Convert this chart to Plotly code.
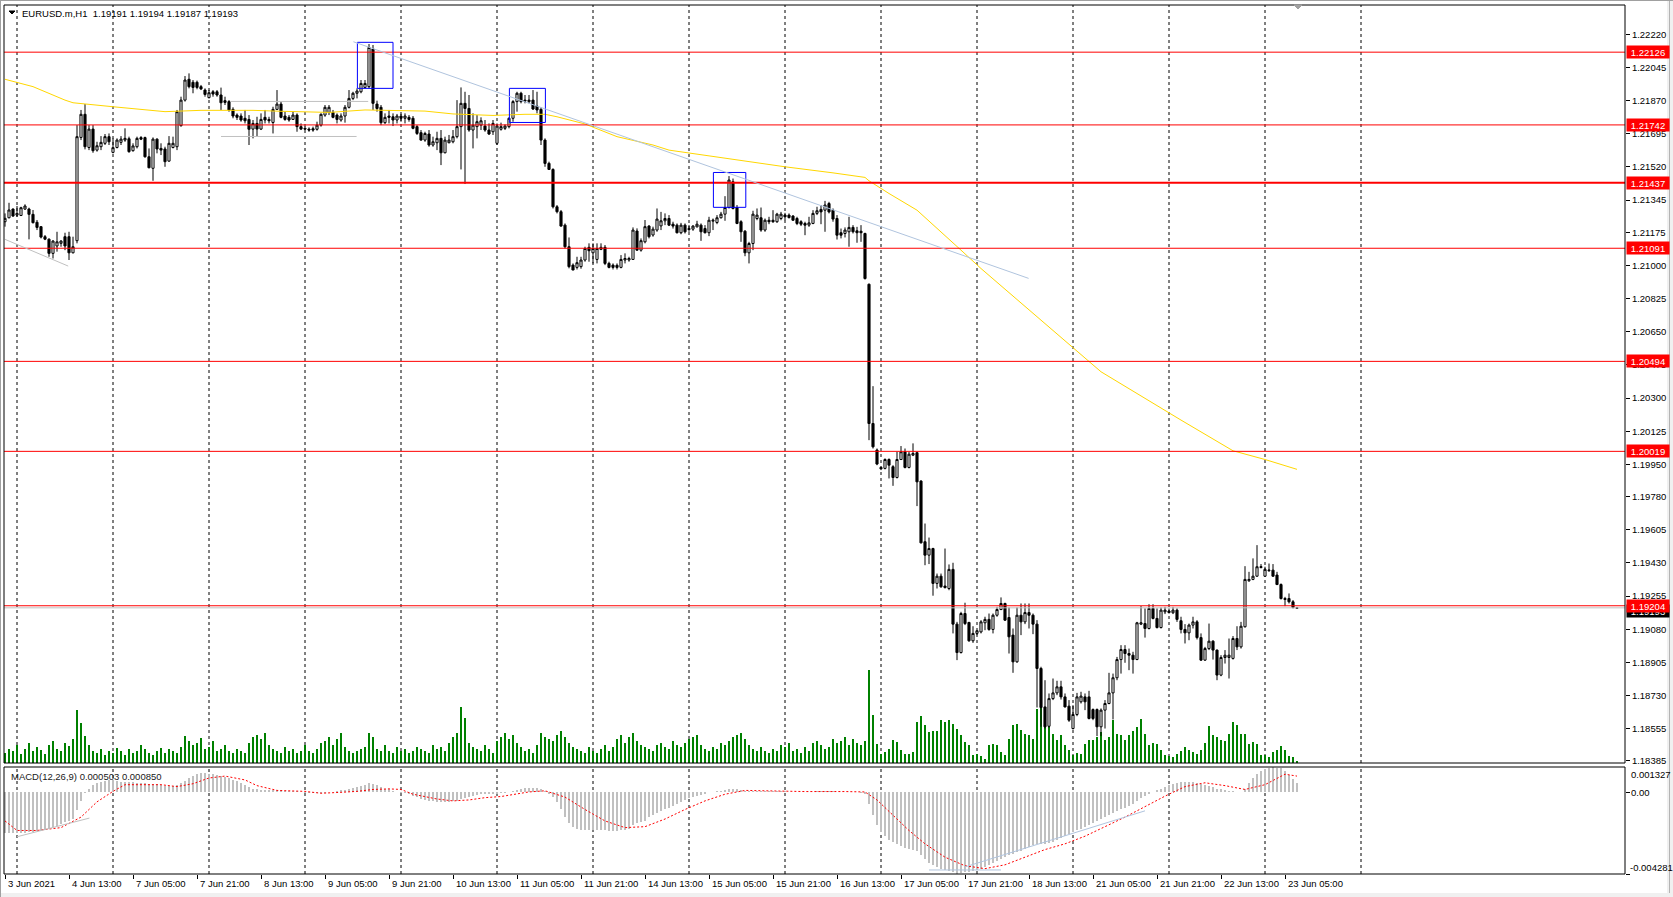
import plotly.graph_objects as go

# ---------------- DATA (EURUSD.m, H1; bar 0 = 3 Jun 2021 21:00) ----------------
# prices in points (1 point = 0.00001)
open_p = [
121231,121252,121298,121266,121264,121298,121298,121270,121228,121205,
121152,121139,121064,121103,121117,121152,121152,121067,121131,121676,
121798,121623,121720,121609,121627,121645,121680,121597,121623,121650,
121662,121669,121606,121627,121675,121675,121574,121513,121667,121618,
121615,121551,121623,121627,121738,121873,121983,121967,121967,121944,
121926,121886,121917,121917,121900,121870,121865,121824,121794,121789,
121777,121771,121720,121750,121720,121782,121771,121755,121824,121852,
121789,121782,121771,121794,121733,121724,121720,121722,121719,121741,
121794,121808,121808,121794,121768,121789,121835,121882,121909,121917,
121940,121944,122143,121852,121835,121754,121789,121785,121768,121789,
121777,121782,121777,121733,121701,121662,121694,121636,121648,121671,
121595,121648,121653,121680,121733,121856,121829,121715,121733,121741,
121736,121715,121706,121645,121719,121724,121733,121777,121865,121909,
121873,121865,121873,121842,121824,121662,121539,121507,121310,121284,
121213,121099,121002,120990,120994,121029,121096,121067,121032,121085,
121096,121011,121002,121001,120990,121029,121029,121032,121182,121081,
121125,121208,121161,121187,121209,121236,121248,121218,121213,121173,
121213,121195,121192,121204,121213,121195,121173,121234,121227,121252,
121271,121306,121442,121306,121231,121181,121067,121116,121248,121252,
121187,121239,121239,121231,121248,121266,121266,121261,121248,121231,
121222,121213,121222,121275,121296,121292,121327,121292,121248,121173,
121169,121178,121201,121183,121181,121169,120901,120166,120026,119934,
119929,119976,119938,119881,119976,120017,119934,119999,120012,119862,
119542,119471,119506,119322,119360,119308,119295,119396,119107,118957,
119163,119116,119019,119058,119066,119114,119132,119079,119154,119184,
119216,119142,119049,118908,119154,119119,119168,119154,119107,118873,
118670,118568,118714,118744,118776,118723,118674,118556,118630,118697,
118723,118723,118656,118656,118565,118653,118688,118744,118824,118920,
118973,118952,118943,118920,119107,119110,119084,119190,119137,119089,
119172,119176,119167,119181,119125,119079,119061,119102,119119,119036,
118917,118978,119017,118970,118838,118931,118931,118926,119031,118987,
119093,119336,119343,119360,119406,119360,119389,119392,119366,119316,
119237,119242,119225,119191]

high_p = [
121275,121331,121301,121314,121310,121323,121305,121293,121240,121208,
121161,121143,121134,121178,121134,121173,121178,121152,121741,121821,
121852,121741,121741,121653,121683,121694,121697,121671,121671,121683,
121724,121680,121645,121680,121683,121680,121618,121676,121671,121645,
121627,121683,121680,121821,121891,122000,122014,121979,121976,121953,
121935,121926,121926,121926,121939,121891,121873,121835,121803,121803,
121821,121794,121768,121785,121803,121821,121785,121838,121926,121865,
121812,121794,121812,121803,121750,121733,121729,121733,121759,121803,
121847,121847,121821,121803,121803,121847,121926,121917,121935,121979,
121979,122169,122164,121870,121847,121803,121821,121803,121800,121800,
121803,121794,121789,121741,121715,121706,121715,121680,121706,121715,
121680,121689,121715,121873,121940,121917,121900,121803,121794,121782,
121768,121750,121768,121750,121754,121745,121782,121873,121917,121917,
121900,121900,121926,121917,121835,121671,121548,121513,121319,121293,
121222,121148,121011,121046,121046,121099,121117,121117,121117,121117,
121108,121020,121011,121011,121055,121064,121046,121201,121196,121143,
121240,121213,121205,121301,121283,121275,121266,121231,121222,121225,
121222,121213,121213,121236,121222,121213,121257,121248,121266,121283,
121366,121472,121459,121319,121239,121187,121125,121289,121301,121306,
121248,121257,121292,121278,121283,121278,121275,121266,121257,121239,
121231,121257,121292,121310,121319,121341,121336,121301,121266,121195,
121201,121257,121213,121204,121213,121173,120905,120363,120034,119938,
119982,119982,119946,120017,120047,120034,120017,120061,120017,119867,
119638,119564,119510,119374,119374,119506,119422,119431,119119,119172,
119220,119119,119096,119075,119128,119146,119163,119163,119198,119248,
119220,119195,119084,119195,119216,119216,119216,119163,119128,118882,
118811,118741,118820,118808,118808,118741,118706,118679,118744,118750,
118741,118755,118662,118662,118662,118706,118850,118846,118934,118996,
118996,118978,118961,119119,119202,119190,119212,119212,119190,119195,
119198,119190,119198,119190,119146,119107,119110,119146,119128,119058,
118987,119110,119022,118973,118943,118970,119031,119044,119096,119119,
119413,119383,119454,119524,119424,119410,119427,119424,119383,119322,
119251,119269,119234,119194]

low_p = [
121205,121249,121257,121257,121261,121293,121138,121222,121187,121143,
121134,121046,121037,121073,121099,121081,121029,121064,121117,121662,
121613,121609,121595,121601,121609,121636,121636,121592,121618,121636,
121653,121595,121601,121618,121662,121569,121513,121447,121592,121583,
121521,121548,121618,121609,121733,121865,121935,121909,121930,121926,
121891,121882,121891,121891,121821,121847,121812,121777,121768,121759,
121750,121636,121671,121680,121715,121750,121750,121697,121821,121777,
121764,121759,121768,121706,121715,121715,121706,121706,121712,121733,
121785,121794,121777,121750,121759,121754,121829,121873,121882,121909,
121935,121935,121821,121812,121741,121747,121750,121736,121750,121759,
121750,121759,121719,121689,121659,121653,121627,121627,121609,121530,
121592,121645,121645,121671,121507,121430,121706,121618,121671,121715,
121706,121689,121689,121636,121712,121715,121724,121759,121812,121856,
121856,121856,121821,121803,121636,121521,121504,121301,121275,121205,
121090,120985,120976,120979,120983,121020,121020,121011,121011,121081,
121002,120985,120979,120979,120985,121011,121020,121029,121078,121073,
121117,121143,121152,121178,121187,121213,121208,121195,121169,121165,
121169,121178,121183,121201,121130,121169,121155,121187,121218,121248,
121236,121301,121296,121218,121125,121049,121011,121081,121239,121178,
121178,121218,121225,121225,121239,121239,121248,121236,121213,121208,
121160,121204,121218,121266,121218,121178,121275,121231,121137,121143,
121148,121099,121169,121120,121125,120926,120078,120034,119946,119920,
119924,119876,119837,119876,119973,119929,119929,119994,119730,119533,
119418,119424,119257,119295,119299,119295,119286,119058,118917,118952,
119102,119014,119008,119049,119058,119075,119072,119058,119146,119181,
119124,118952,118850,118903,119049,119107,119084,119054,118667,118565,
118556,118561,118706,118732,118709,118667,118591,118551,118621,118688,
118653,118604,118600,118516,118516,118556,118684,118604,118811,118846,
118903,118864,118846,118917,119102,119036,119079,119132,119084,119084,
119160,119163,119160,119119,119058,119005,119022,119084,119026,118913,
118913,118970,118920,118811,118832,118899,118820,118920,118970,118978,
119089,119330,119339,119357,119401,119357,119383,119357,119313,119237,
119202,119216,119190,119187]

close_p = [
121249,121293,121261,121275,121305,121314,121270,121226,121201,121150,
121139,121064,121129,121125,121129,121103,121067,121099,121680,121798,
121627,121720,121606,121632,121650,121680,121653,121622,121662,121667,
121671,121601,121631,121671,121667,121574,121516,121667,121615,121609,
121548,121645,121645,121812,121873,121979,121944,121940,121940,121932,
121903,121912,121905,121900,121859,121861,121821,121789,121782,121768,
121764,121719,121750,121720,121771,121768,121764,121824,121852,121782,
121771,121768,121794,121733,121720,121720,121715,121715,121741,121798,
121835,121835,121782,121771,121789,121835,121882,121909,121921,121961,
121961,122151,121856,121829,121754,121782,121782,121768,121789,121777,
121789,121771,121724,121697,121662,121697,121636,121653,121671,121595,
121662,121662,121680,121733,121856,121829,121715,121741,121759,121764,
121715,121694,121750,121736,121733,121736,121777,121865,121909,121865,
121868,121873,121826,121821,121662,121539,121507,121310,121284,121208,
121099,120994,120976,121015,121029,121090,121078,121090,121090,121096,
121011,120990,120990,120990,121032,121037,121037,121187,121081,121131,
121205,121152,121192,121245,121236,121248,121213,121208,121173,121213,
121178,121190,121208,121218,121178,121173,121239,121239,121252,121271,
121306,121451,121301,121222,121178,121067,121116,121271,121266,121187,
121239,121231,121231,121271,121271,121257,121253,121239,121222,121218,
121213,121225,121275,121289,121283,121319,121283,121245,121160,121160,
121187,121201,121178,121173,121173,120931,120166,120043,119952,119927,
119976,119946,119881,119976,120017,119934,120004,120008,119858,119536,
119471,119506,119322,119360,119304,119300,119396,119107,118957,119163,
119110,119019,119058,119072,119119,119132,119079,119154,119184,119216,
119128,119040,118908,119154,119119,119168,119154,119107,118873,118667,
118565,118714,118744,118776,118723,118670,118600,118630,118723,118727,
118697,118609,118609,118565,118653,118688,118744,118824,118920,118973,
118952,118943,118920,119114,119114,119084,119190,119137,119089,119181,
119181,119168,119181,119132,119079,119061,119102,119119,119036,118917,
118978,119017,118970,118838,118931,118943,118943,119031,118987,119096,
119343,119343,119360,119410,119410,119396,119392,119360,119316,119242,
119242,119225,119195,119193]

tick_volume = [
1000,1400,1200,1800,900,1400,2000,1200,1600,1300,900,1800,2200,1400,1200,2000,1700,2400,
5300,4000,2700,1800,
1200,1000,1400,800,1200,1000,1500,1200,800,1400,1000,1200,1800,1400,1000,800,1200,1500,1000,1400,1200,1000,1600,
2700,2200,1800,2000,2500,1400,1600,2200,1200,1400,1800,1200,1000,1400,1200,1000,
2000,2600,2800,2400,3000,1800,1400,1200,1000,1600,1200,1400,1000,1200,1800,
1200,1000,1400,2000,2200,2600,1800,2400,3000,1600,1200,1000,1200,1400,1600,
3000,2600,1400,1200,1800,1200,1000,1600,1200,1400,
1000,1200,1600,1400,1200,1000,1800,1400,1600,1200,2000,2600,3000,5600,4500,
2000,1600,1400,1200,1800,1400,1000,2200,2600,3000,2400,2800,2000,1600,1200,
1400,1000,1800,3000,2600,2400,2200,2800,3200,2600,2000,1600,1400,1200,1000,
1600,1200,1000,1400,1800,1200,1600,2400,2800,2000,2600,3000,2200,1800,1600,
1400,1200,1800,2000,1600,1400,2200,1800,1600,2000,2400,2600,2800,1800,1400,
1200,1600,1400,2000,1800,2200,2600,2800,3000,2400,1800,1400,1200,1600,1200,
1000,1400,1200,1800,1600,2000,1200,1400,1000,1600,1200,2000,2200,1800,1400,
1600,2400,2000,2200,2600,1800,2400,2000,1800,2200,9300,
4770,1930,930,1100,1430,2330,2100,1330,930,930,
1100,4100,4670,3770,3100,3200,3200,4270,4100,4270,
3870,3430,2770,2100,1770,770,930,670,430,1770,
1870,1770,1100,770,2430,3770,3870,3270,2930,2770,
2430,5430,5600,4770,4270,2930,2270,2770,1770,1270,
770,1000,930,1930,2330,2330,2600,3100,2270,2600,
4270,2930,2770,2270,2770,3200,3600,4430,2930,1770,
2000,1930,1270,770,670,600,930,1200,1600,1270,
1100,930,1330,2000,3670,2770,2600,2270,2200,2930,
4100,3770,2930,2930,1930,2100,1930,770,770,600,
1100,1270,1670,1330,670,600,200]

# MACD(12,26,9) main values, units of 0.0001
macd_main = [
-21.5,-21.5,-21.4,-21.4,-21.3,-21.2,-21.0,-20.8,-20.5,-20.1,-19.8,
-19.2,-18.3,-17.5,-16.6,-15.7,-14.9,-14.0,
-9.5,-4.5,-0.5,2.0,3.8,5.0,5.4,5.8,6.2,6.2,6.0,
5.6,5.4,5.2,5.2,5.1,5.1,4.8,4.6,4.6,4.4,
3.8,3.4,3.2,3.2,3.6,
4.8,5.9,7.3,
8.6,9.4,10.0,10.0,
9.8,9.4,9.0,8.5,8.0,7.4,
6.5,5.7,4.7,3.8,2.9,
2.0,1.5,1.2,1.2,1.1,1.0,
1.0,1.0,0.7,0.7,0.7,0.5,0.2,
-0.1,-0.4,-0.6,-0.6,-0.4,
-0.3,0.0,0.4,0.7,1.0,1.3,1.6,
2.1,2.6,3.2,3.8,
5.0,4.4,3.6,2.9,2.0,1.5,
0.7,0.3,-0.1,-0.4,
-1.0,-1.7,-2.6,-3.3,-3.9,-4.4,
-4.8,-5.1,-5.3,-5.3,-5.1,-4.8,-4.4,
-3.5,-2.8,-2.3,-1.8,-1.3,-1.0,-1.0,-0.8,-0.8,
-0.8,-0.6,-0.3,0.0,
0.5,1.2,1.9,2.3,2.4,2.4,
2.1,1.7,0.5,-0.8,-2.6,-5.3,
-9,-13,-16,-18,-19,-19.5,-20,-20,-20,-20,-20,-20,
-20.5,-20.5,-20.5,-20,-19.5,-19,-17,-16,-15.5,-15,
-13,-12,-11,-10,-9,-8,-7,-6,-5,-4,-3,-2.5,-2,-1.5,-1,
0,0.3,0.5,0.8,1,1.5,1.5,1.5,1.2,0.8,0.5,0.8,0.8,0.6,0.6,
0.5,0.5,0.5,0.5,0.5,0.4,0.4,0.3,0.3,0.3,
0.3,0.4,0.5,0.5,0.6,0.6,0.5,0.3,0.2,0.1,
0.1,0,0,-0.1,-1,
-6,-12,-17,-21,-23,-25,-26,-27,-28,-29,-29.5,-30,-31,-33,-35,
-37,-38,-39,-40,-40.5,-41,-42,-42.8,-42.5,-42,-41.5,-41,-40.5,-40,-39,
-38,-37,-36,-35,-34,-33,-32.5,-31.5,-30.5,-29.5,-28.5,-27.5,-27,-27,-27,
-26.5,-26,-25,-24,-23,-22,-21,-20,-19,-18,-17,-16,-15,-14,-13,
-12,-11,-10,-9,-8,-7,-6,-4.5,-3,-2,-1,0,1,2,3,
4,4.5,5,5.5,5.5,5.5,5.5,5,4.5,4,3.5,3,2,1.5,1,
0.8,0.5,0.3,0.3,2,5,7.5,9.5,11,12,12.8,13.27,13,12.5,11,9,7,5.03]

# MACD signal line, sampled bars / values (units of 0.0001)
signal_bars = [0,3,8,14,19,23,27,30,39,43,47,51,55,60,63,68,75,79,84,88,
               92,96,99,102,108,112,116,120,124,128,131,135,140,145,150,155,160,165,170,175,
               180,185,190,200,210,215,218,222,226,230,235,240,245,250,255,260,265,270,275,280,
               285,290,295,300,305,310,315,320,323]
signal_vals = [-15,-20,-20,-18.5,-13,-5,0.5,4,4,3,4.5,7.5,8.5,6.5,3.5,1,0.5,-0.5,0,0.5,
               1.5,1.8,1.5,-1,-3.5,-4.5,-4,-2.8,-2.2,-1,0.2,0.8,-2.5,-9,-15,-18.5,-18,-14,-9,-4.5,
               -1,1,0.8,0.4,0.4,0.2,-4,-12,-20,-27,-34,-38.5,-40,-38,-34,-30,-27,-23,-18,-13,
               -7.5,-2,3,5,3.5,1.5,4,9.5,8.5]

# Moving average (yellow) sampled bars / values (points)
ma_bars = [0,7,15,17,27,34,40,49,62,69,81,90,105,112,122,130,135,138,145,153,
           162,166,186,195,207,215,216,221,228,235,239,244,256,274,294,307,315,323]
ma_vals = [121983,121944,121873,121859,121838,121826,121812,121819,121819,121814,
           121808,121821,121815,121800,121792,121798,121798,121785,121747,121680,
           121636,121609,121547,121521,121489,121465,121447,121380,121292,121160,
           121081,120984,120764,120439,120184,120022,119976,119924]

# horizontal levels (red)
levels = [1.22126, 1.21742, 1.21437, 1.21091, 1.20494, 1.20019, 1.19204]
level_widths = [1, 1, 2, 1, 1, 1, 1]
bid_price = 1.19193

# rectangles: (bar0, bar1, price_low, price_high)
boxes = [(88.1, 97.0, 1.21935, 1.22178), (126.1, 135.1, 1.21755, 1.21935), (177.1, 185.2, 1.21307, 1.21491)]
# trend lines: (bar0, price0, bar1, price1, color)
trend_lines = [(87.1, 1.22181, 255.9, 1.20932, '#B0C4DE'),
               (0.0, 1.21138, 15.8, 1.20997, '#C0C0C0'),
               (56.25, 1.21866, 90.8, 1.21866, '#C0C0C0'),
               (54.0, 1.21681, 87.9, 1.21681, '#C0C0C0')]
macd_lines = [(3.0, -0.00233, 21.1, -0.00135, '#C0C0C0'),
              (231.0, -0.00407, 249.0, -0.00407, '#B0C4DE'),
              (240.0, -0.00391, 285.0, -0.00097, '#B0C4DE')]

label_bars = [0,16,32,48,64,80,96,112,128,144,160,176,192,208,224,240,256,272,288,304,320]
label_texts = ["3 Jun 2021","4 Jun 13:00","7 Jun 05:00","7 Jun 21:00","8 Jun 13:00","9 Jun 05:00",
               "9 Jun 21:00","10 Jun 13:00","11 Jun 05:00","11 Jun 21:00","14 Jun 13:00","15 Jun 05:00",
               "15 Jun 21:00","16 Jun 13:00","17 Jun 05:00","17 Jun 21:00","18 Jun 13:00","21 Jun 05:00",
               "21 Jun 21:00","22 Jun 13:00","23 Jun 05:00"]
grid_bars = [3,27,51,75,99,123,147,171,195,219,243,267,291,315,339]
price_ticks = [1.22220,1.22045,1.21870,1.21695,1.21520,1.21345,1.21175,1.21000,1.20825,1.20650,1.20475,
               1.20300,1.20125,1.19950,1.19780,1.19605,1.19430,1.19255,1.19080,1.18905,1.18730,1.18555,1.18385]
header_text = "EURUSD.m,H1\u00a0\u00a01.19191 1.19194 1.19187 1.19193"
macd_text = "MACD(12,26,9) 0.000503 0.000850"
macd_max, macd_min = 0.001327, -0.004281

# ---------------- FIGURE ----------------
FONT = "Liberation Sans, Arial, sans-serif"
W, H = 1673, 897
ML, MR, MT, MB = 4, 48, 5, 23
PH = H - MT - MB
MAIN_BOTTOM = (H - MB - 763) / PH
MACD_TOP = (H - MB - 767) / PH

n = len(close_p)
xs = list(range(n))
pts = lambda a: [v / 1e5 for v in a]

fig = go.Figure()
fig.add_trace(go.Bar(x=xs, y=tick_volume[:n], width=0.27, marker=dict(color='#008000', line=dict(width=0)),
                     xaxis='x', yaxis='y', hoverinfo='skip'))
fig.add_trace(go.Candlestick(x=xs, open=pts(open_p), high=pts(high_p), low=pts(low_p), close=pts(close_p),
                             increasing=dict(fillcolor='white', line=dict(color='black', width=1)),
                             decreasing=dict(fillcolor='black', line=dict(color='black', width=1)),
                             whiskerwidth=0, xaxis='x', yaxis='y2', hoverinfo='skip'))
fig.add_trace(go.Scatter(x=ma_bars, y=pts(ma_vals), mode='lines', line=dict(color='#FFD700', width=1),
                         xaxis='x', yaxis='y2', hoverinfo='skip'))
fig.add_trace(go.Bar(x=xs, y=[v * 1e-4 for v in macd_main[:n]], width=0.72,
                     marker=dict(color='#C0C0C0', line=dict(width=0)), xaxis='x', yaxis='y3', hoverinfo='skip'))
fig.add_trace(go.Scatter(x=signal_bars, y=[v * 1e-4 for v in signal_vals], mode='lines',
                         line=dict(color='#FF0000', width=1, dash='2px,2px'), xaxis='x', yaxis='y3', hoverinfo='skip'))

shapes = []
for b in grid_bars:
    for y0, y1 in [(MAIN_BOTTOM, 1), (0, MACD_TOP)]:
        shapes.append(dict(type='line', xref='x', yref='paper', x0=b, x1=b, y0=y0, y1=y1,
                           line=dict(color='black', width=1, dash='3px,3px'), layer='below'))
shapes.append(dict(type='line', xref='paper', yref='y2', x0=0, x1=1, y0=bid_price, y1=bid_price,
                   line=dict(color='#C0C0C0', width=1)))
for lv, lw in zip(levels, level_widths):
    shapes.append(dict(type='line', xref='paper', yref='y2', x0=0, x1=1, y0=lv, y1=lv,
                       line=dict(color='#FF0000', width=lw)))
for b0, b1, p0, p1 in boxes:
    shapes.append(dict(type='rect', xref='x', yref='y2', x0=b0, x1=b1, y0=p0, y1=p1,
                       line=dict(color='#0000FF', width=1), fillcolor='rgba(0,0,0,0)'))
for b0, p0, b1, p1, c in trend_lines:
    shapes.append(dict(type='line', xref='x', yref='y2', x0=b0, x1=b1, y0=p0, y1=p1, line=dict(color=c, width=1)))
for b0, p0, b1, p1, c in macd_lines:
    shapes.append(dict(type='line', xref='x', yref='y3', x0=b0, x1=b1, y0=p0, y1=p1, line=dict(color=c, width=1)))
# panel frames
shapes.append(dict(type='rect', xref='paper', yref='paper', x0=0, x1=1, y0=MAIN_BOTTOM, y1=1,
                   line=dict(color='black', width=1), fillcolor='rgba(0,0,0,0)'))
shapes.append(dict(type='rect', xref='paper', yref='paper', x0=0, x1=1, y0=0, y1=MACD_TOP,
                   line=dict(color='black', width=1), fillcolor='rgba(0,0,0,0)'))
# window chrome
px = lambda p: (p - ML) / (W - ML - MR)
py = lambda p: (H - MB - p) / PH
shapes.append(dict(type='rect', xref='paper', yref='paper', x0=px(1667), x1=px(1673), y0=py(897), y1=py(0),
                   line=dict(width=0), fillcolor='#F0F0F0'))
shapes.append(dict(type='line', xref='paper', yref='paper', x0=px(1669.5), x1=px(1669.5), y0=py(897), y1=py(0),
                   line=dict(color='#B4B4B4', width=1)))
shapes.append(dict(type='rect', xref='paper', yref='paper', x0=px(0), x1=px(1673), y0=py(897), y1=py(893),
                   line=dict(width=0), fillcolor='#F0F0F0'))
shapes.append(dict(type='line', xref='paper', yref='paper', x0=px(0.5), x1=px(0.5), y0=py(897), y1=py(0),
                   line=dict(color='#A0A0A0', width=1)))
shapes.append(dict(type='line', xref='paper', yref='paper', x0=px(0), x1=px(1673), y0=py(0.5), y1=py(0.5),
                   line=dict(color='#A0A0A0', width=1)))
# small triangles
shapes.append(dict(type='path', xref='paper', yref='paper', xsizemode='pixel', ysizemode='pixel',
                   xanchor=px(12), yanchor=1, path='M -3,-6 L 3,-6 L 0,-9 Z',
                   fillcolor='black', line=dict(color='black', width=1)))
shapes.append(dict(type='path', xref='paper', yref='paper', xsizemode='pixel', ysizemode='pixel',
                   xanchor=px(1298), yanchor=1, path='M -4,0 L 4,0 L 0,-4 Z',
                   fillcolor='#A0A0A0', line=dict(color='#A0A0A0', width=1)))

ann = []
ann.append(dict(xref='paper', yref='paper', x=0, y=1, xanchor='left', yanchor='middle', xshift=16, yshift=-8,
                text=header_text, showarrow=False, font=dict(family=FONT, size=9.5, color='black')))
ann.append(dict(xref='paper', yref='paper', x=0, y=MACD_TOP, xanchor='left', yanchor='middle', xshift=5, yshift=-9,
                text=macd_text, showarrow=False, font=dict(family=FONT, size=9.5, color='#202020')))
# price labels
ann.append(dict(xref='paper', yref='y2', x=1, y=bid_price, xanchor='left', yanchor='middle', xshift=1, yshift=-3,
                text='1.19193', showarrow=False, bgcolor='black', width=40, height=10,
                font=dict(family=FONT, size=9.5, color='white')))
for lv in levels:
    ann.append(dict(xref='paper', yref='y2', x=1, y=lv, xanchor='left', yanchor='middle', xshift=1,
                    text='%.5f' % lv, showarrow=False, bgcolor='#FF0000', width=40, height=10,
                    font=dict(family=FONT, size=9.5, color='white')))
# MACD axis labels
ann.append(dict(xref='paper', yref='paper', x=1, y=MACD_TOP, xanchor='left', yanchor='middle', xshift=4, yshift=-7,
                text='%.6f' % macd_max, showarrow=False, font=dict(family=FONT, size=9.5, color='black')))
ann.append(dict(xref='paper', yref='y3', x=1, y=0, xanchor='left', yanchor='middle', xshift=4,
                text='0.00', showarrow=False, font=dict(family=FONT, size=9.5, color='black')))
ann.append(dict(xref='paper', yref='paper', x=1, y=0, xanchor='left', yanchor='middle', xshift=3, yshift=7,
                text='%.6f' % macd_min, showarrow=False, font=dict(family=FONT, size=9.5, color='black')))
for b, t in zip(label_bars, label_texts):
    ann.append(dict(xref='x', yref='paper', x=b, y=0, xanchor='left', yanchor='middle', xshift=1, yshift=-9,
                    text=t, showarrow=False, font=dict(family=FONT, size=9.5, color='black')))

fig.update_layout(
    width=W, height=H, paper_bgcolor='white', plot_bgcolor='white', showlegend=False,
    margin=dict(l=ML, r=MR, t=MT, b=MB, autoexpand=False), boxgap=0.25,
    xaxis=dict(domain=[0, 1], range=[-0.25, 405], anchor='y3', showgrid=False, zeroline=False,
               tickvals=label_bars, ticks='outside', ticklen=4, tickcolor='black', showticklabels=False,
               rangeslider=dict(visible=False), fixedrange=True),
    yaxis=dict(domain=[MAIN_BOTTOM, 1], range=[0, 75800], visible=False, fixedrange=True),
    yaxis2=dict(overlaying='y', side='right', anchor='x', range=[1.18374, 1.22375], tickvals=price_ticks,
                ticktext=['%.5f' % v for v in price_ticks], ticks='outside', ticklen=4, tickcolor='black',
                showgrid=False, zeroline=False, tickfont=dict(family=FONT, size=9.5, color='black'), fixedrange=True),
    yaxis3=dict(domain=[0, MACD_TOP], anchor='x', side='right', range=[macd_min, macd_max],
                tickvals=[0, macd_min], ticks='outside', ticklen=4, tickcolor='black', showticklabels=False,
                showgrid=False, zeroline=False, fixedrange=True),
    shapes=shapes, annotations=ann, bargap=0,
)
fig.write_html("out.html", config={'displayModeBar': False, 'staticPlot': True},
               post_script="document.body.style.margin='0';document.body.style.overflow='hidden';")
